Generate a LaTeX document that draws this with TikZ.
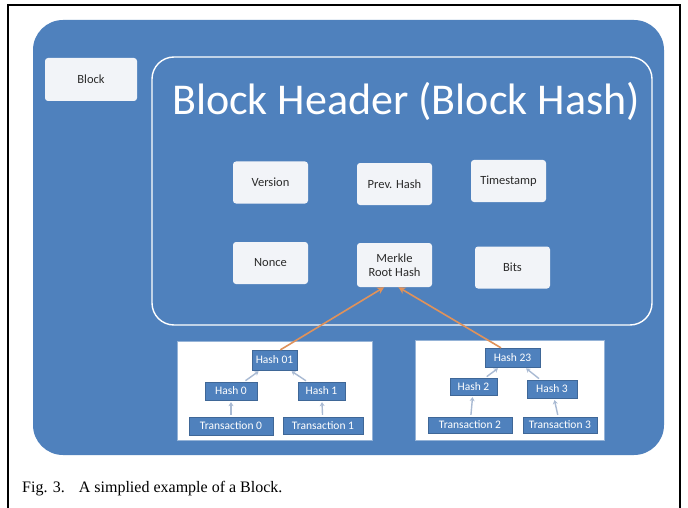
\documentclass[tikz,border=0pt]{standalone}
\usepackage{fontspec}
\setmainfont{Liberation Serif}
\newfontfamily\carl{Carlito}
\usepackage{tikz}
\usetikzlibrary{arrows.meta}
\definecolor{bgblue}{HTML}{4F81BD}
\definecolor{cardbg}{HTML}{F2F4F8}
\definecolor{cardtxt}{HTML}{2B2B2B}
\definecolor{linkc}{HTML}{A9BAD3}
\definecolor{feedc}{HTML}{E0925A}
\tikzset{
  field/.style={fill=cardbg, rounded corners=3pt, inner sep=0pt, minimum width=75pt, minimum height=42pt, align=center, text=cardtxt, font=\carl\fontsize{12.5}{14}\selectfont},
  hnode/.style={fill=bgblue, draw=bgblue!80!black, line width=0.3pt, inner sep=0pt, text=white, font=\carl\fontsize{11.5}{13}\selectfont},
  panel/.style={fill=white, draw=bgblue!60!white, line width=0.6pt},
  link/.style={draw=linkc, line width=1.4pt, shorten <=2pt, shorten >=2pt, -{Stealth[length=4pt,width=5pt]}},
  feed/.style={draw=feedc, line width=1.6pt, -{Stealth[length=7pt,width=7pt]}},
  figcap/.style={font=\fontsize{16}{18}\selectfont, text=black, inner sep=0pt},
}
\begin{document}
\begin{tikzpicture}[x=1pt,y=-1pt]
  \useasboundingbox (0,0) rectangle (688,508);
  \fill[white] (0,0) rectangle (688,508);
  \draw[line width=1.4pt] (8,508) -- (8,5) -- (680,5) -- (680,508);
  \fill[bgblue, rounded corners=30pt] (33,20) rectangle (664,455);
  % header
  \node[field, minimum width=92pt, minimum height=43pt] (blk) at (91,79.5) {Block};
  \draw[white, line width=1.4pt, rounded corners=22pt] (152,57) rectangle (652,325);
  \node[text=white, font=\carl\fontsize{44}{48}\selectfont, inner sep=0pt, anchor=base] (title) at (406,115) {Block Header (Block Hash)};
  \node[field] (ver)    at (270.5,182.5) {Version};
  \node[field] (prev)   at (394.5,184)   {Prev. Hash};
  \node[field] (ts)     at (508.5,181)   {Timestamp};
  \node[field] (nonce)  at (270.5,263)   {Nonce};
  \node[field, minimum height=44pt] (merkle) at (394.5,265) {Merkle\\Root Hash};
  \node[field] (bits)   at (512.5,267.5) {Bits};
  % merkle trees
  \fill[panel] (177,341) rectangle (372,440);
  \fill[panel] (415,340) rectangle (604,440);
  \node[hnode, minimum width=45pt, minimum height=20pt] (h01) at (274.5,360) {Hash 01};
  \node[hnode, minimum width=52pt, minimum height=18pt] (h0)  at (231,391)   {Hash 0};
  \node[hnode, minimum width=47pt, minimum height=18pt] (h1)  at (321.5,391) {Hash 1};
  \node[hnode, minimum width=84pt, minimum height=18pt] (tx0) at (231,426)   {Transaction 0};
  \node[hnode, minimum width=80pt, minimum height=17pt] (tx1) at (323,425.5) {Transaction 1};
  \node[hnode, minimum width=55pt, minimum height=19pt] (h23) at (512.5,357.5) {Hash 23};
  \node[hnode, minimum width=47pt, minimum height=17pt] (h2)  at (473.5,386.5) {Hash 2};
  \node[hnode, minimum width=50pt, minimum height=18pt] (h3)  at (552,389)   {Hash 3};
  \node[hnode, minimum width=84pt, minimum height=16pt] (tx2) at (470,425)   {Transaction 2};
  \node[hnode, minimum width=74pt, minimum height=16pt] (tx3) at (560,425)   {Transaction 3};
  \draw[link] (h0) -- (h01);
  \draw[link] (h1) -- (h01);
  \draw[link] (tx0) -- (h0);
  \draw[link] (tx1) -- (h1);
  \draw[link] (h2) -- (h23);
  \draw[link] (h3) -- (h23);
  \draw[link] (tx2) -- (h2);
  \draw[link] (tx3) -- (h3);
  \draw[feed] (h01.60) -- (merkle.-115);
  \draw[feed] (h23.140) -- (merkle.-80);
  % caption
  \node[figcap, anchor=base west] (caption) at (22,492) {Fig. 3.\hspace{14pt}A simplied example of a Block.};
\end{tikzpicture}
\end{document}
